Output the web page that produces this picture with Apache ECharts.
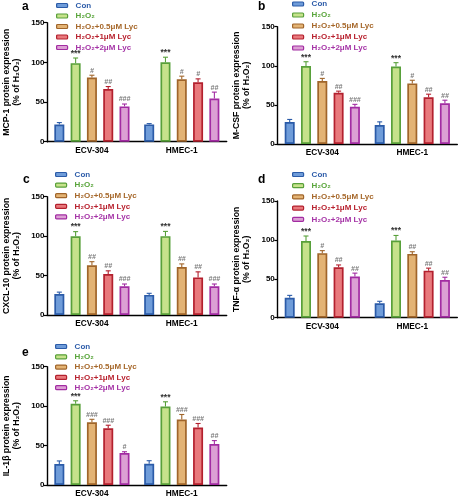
<!DOCTYPE html>
<html><head><meta charset="utf-8">
<script src="https://cdn.jsdelivr.net/npm/echarts@6/dist/echarts.min.js"></script>
<style>html,body{margin:0;padding:0;background:#fff}#c{width:459px;height:500px}</style>
</head><body><div id="c"></div>
<script>
// ---- data ----
const categories = ['ECV-304', 'HMEC-1'];
const groups = ['Con', 'H₂O₂', 'H₂O₂+0.5μM Lyc', 'H₂O₂+1μM Lyc', 'H₂O₂+2μM Lyc'];
const yMin = 0, yMax = 150, yStep = 50;

// per group: [ECV-304, HMEC-1]
const mcp1Mean = [[21.6, 21.8], [99, 100], [80.8, 78.8], [66.5, 75], [44.5, 54.5]];
const mcp1Err  = [[2.5, 1], [6.5, 6.5], [3, 3.8], [3, 4.2], [3, 8]];
const mcp1Sig  = [['', ''], ['***', '***'], ['#', '#'], ['##', '#'], ['###', '##']];

const mcsfMean = [[28, 24.3], [99.7, 99], [80.5, 77.5], [65.6, 59.7], [47.7, 52]];
const mcsfErr  = [[3.4, 4], [5.5, 5], [3.4, 4], [2, 4], [3, 4]];
const mcsfSig  = [['', ''], ['***', '***'], ['#', '#'], ['##', '##'], ['###', '##']];

const cxclMean = [[26.5, 25.5], [99.7, 100], [63, 60.8], [52, 47.7], [36.3, 36.3]];
const cxclErr  = [[2.5, 2], [6, 6], [4.6, 4], [4, 7], [3, 3]];
const cxclSig  = [['', ''], ['***', '***'], ['##', '##'], ['##', '##'], ['###', '###']];

const tnfMean = [[25.5, 18.5], [98.5, 99.2], [83, 82], [64.8, 60.5], [52.8, 48.5]];
const tnfErr  = [[3.2, 2.6], [6.5, 6.5], [3.2, 2.8], [3, 3.2], [4.5, 3.5]];
const tnfSig  = [['', ''], ['***', '***'], ['#', '##'], ['##', '##'], ['##', '##']];

const il1bMean = [[26.5, 27], [103, 99.5], [79.5, 83], [72, 73], [40.5, 52]];
const il1bErr  = [[4, 3.8], [3.8, 6], [3.8, 6.4], [3.8, 5], [1.7, 4.3]];
const il1bSig  = [['', ''], ['***', '***'], ['###', '###'], ['###', '###'], ['#', '##']];

const panelLetters = ['a', 'b', 'c', 'd', 'e'];
const yTitles = [
  'MCP-1 protein expression\n(% of H₂O₂)',
  'M-CSF protein expression\n(% of H₂O₂)',
  'CXCL-10 protein expression\n(% of H₂O₂)',
  'TNF-α protein expression\n(% of H₂O₂)',
  'IL-1β protein expression\n(% of H₂O₂)'
];
const panelData = [
  [mcp1Mean, mcp1Err, mcp1Sig],
  [mcsfMean, mcsfErr, mcsfSig],
  [cxclMean, cxclErr, cxclSig],
  [tnfMean, tnfErr, tnfSig],
  [il1bMean, il1bErr, il1bSig]
];

// ---- styles / layout ----
const FONT = '"Liberation Sans", Arial, sans-serif';
const fills   = ['#6f9cd9', '#c6e28b', '#e3b374', '#e8797c', '#dca0d4'];
const borders = ['#2b5ba8', '#58a03a', '#a0652a', '#b3202e', '#a22ca2'];
const textCols = ['#2d5ca9', '#5aa53c', '#a6682b', '#b8222f', '#a534a6'];
const grids = [
  {left: 46.7, top: 22.7, width: 180, height: 119},
  {left: 277.3, top: 26.7, width: 180, height: 117.3},
  {left: 46.7, top: 196.7, width: 180, height: 118.3},
  {left: 277.3, top: 201, width: 180, height: 116.7},
  {left: 46.7, top: 366.7, width: 180, height: 118.3}
];
const legendPos = [
  {left: 56, top: 0.5, gap: 0.5},
  {left: 292, top: -1, gap: 1},
  {left: 55, top: 169.5, gap: 0.6},
  {left: 292, top: 169.5, gap: 1.2},
  {left: 55, top: 341.5, gap: 0.3}
];
const letterPos = [[26, 8], [262, 8], [27, 181], [262, 181], [26, 354]];
const BAR_W = 10, STEP = 16.3;

const option = {
  animation: false,
  textStyle: {fontFamily: FONT},
  title: panelLetters.map((t, i) => ({
    text: t, left: letterPos[i][0] - 4, top: letterPos[i][1] - 7,
    padding: 0,
    textStyle: {fontFamily: FONT, fontWeight: 'bold', fontSize: 12, color: '#000'}
  })),
  grid: grids.map(g => ({left: g.left, top: g.top, width: g.width, height: g.height, containLabel: false})),
  legend: legendPos.map((p, i) => ({
    orient: 'vertical', left: p.left, top: p.top, itemGap: p.gap,
    itemWidth: 11, itemHeight: 4, padding: 0, selectedMode: false,
    itemStyle: {borderWidth: 1.2},
    textStyle: {fontFamily: FONT, fontWeight: 'bold', fontSize: 8, lineHeight: 10, padding: [0, 0, 0, 3]},
    data: groups.map((n, k) => ({name: n, textStyle: {color: textCols[k]}}))
  })),
  xAxis: grids.map((g, i) => ({
    type: 'category', gridIndex: i, data: categories,
    axisLine: {lineStyle: {color: '#000', width: 1.4}},
    axisTick: {alignWithLabel: true, length: 3, lineStyle: {color: '#000', width: 1.2}},
    axisLabel: {color: '#000', fontWeight: 'bold', fontSize: 8.3, margin: 5, fontFamily: FONT},
    splitLine: {show: false}
  })),
  yAxis: grids.map((g, i) => ({
    type: 'value', gridIndex: i, min: yMin, max: yMax, interval: yStep,
    name: yTitles[i], nameLocation: 'middle', nameGap: 25,
    nameTextStyle: {color: '#000', fontWeight: 'bold', fontSize: 8.7, lineHeight: 10.5, fontFamily: FONT},
    axisLine: {show: true, lineStyle: {color: '#000', width: 1.4}},
    axisTick: {show: true, length: 3, lineStyle: {color: '#000', width: 1.2}},
    axisLabel: {color: '#000', fontWeight: 'bold', fontSize: 8, margin: 2.5, fontFamily: FONT},
    splitLine: {show: false}
  })),
  series: []
};

panelData.forEach((pd, p) => {
  const [mean, err, sig] = pd;
  groups.forEach((name, g) => {
    option.series.push({
      type: 'bar', name: name, xAxisIndex: p, yAxisIndex: p,
      barWidth: BAR_W, barGap: '63%',
      data: mean[g],
      itemStyle: {color: fills[g], borderColor: borders[g], borderWidth: 1.7},
      z: 2
    });
  });
  const ebData = [];
  groups.forEach((name, g) => {
    categories.forEach((c, ci) => {
      ebData.push([ci, mean[g][ci], err[g][ci], g, sig[g][ci]]);
    });
  });
  option.series.push({
    type: 'custom', xAxisIndex: p, yAxisIndex: p, z: 5,
    data: ebData,
    encode: {x: 0, y: 1},
    renderItem: (params, api) => {
      const ci = api.value(0), m = api.value(1), e = api.value(2), g = api.value(3);
      const s = ebData[params.dataIndex][4];
      const base = api.coord([ci, m]);
      const top = api.coord([ci, m + e]);
      const x = base[0] + (g - 2) * STEP;
      const col = borders[g];
      const children = [
        {type: 'line', shape: {x1: x, y1: base[1], x2: x, y2: top[1]}, style: {stroke: col, lineWidth: 1.1}},
        {type: 'line', shape: {x1: x - 2.5, y1: top[1], x2: x + 2.5, y2: top[1]}, style: {stroke: col, lineWidth: 1.1}}
      ];
      if (s) {
        const isStar = s.indexOf('*') >= 0;
        children.push({
          type: 'text', x: x, y: top[1] - (isStar ? 0 : 1),
          style: {
            text: s, textAlign: 'center', textVerticalAlign: 'bottom',
            font: (isStar ? 'bold 8.5px ' : 'italic bold 7px ') + FONT,
            fill: isStar ? '#333' : '#7a7a7a'
          }
        });
      }
      return {type: 'group', children: children};
    }
  });
});

const chart = echarts.init(document.getElementById('c'), null, {renderer: 'canvas'});
chart.setOption(option);
</script>
</body></html>
